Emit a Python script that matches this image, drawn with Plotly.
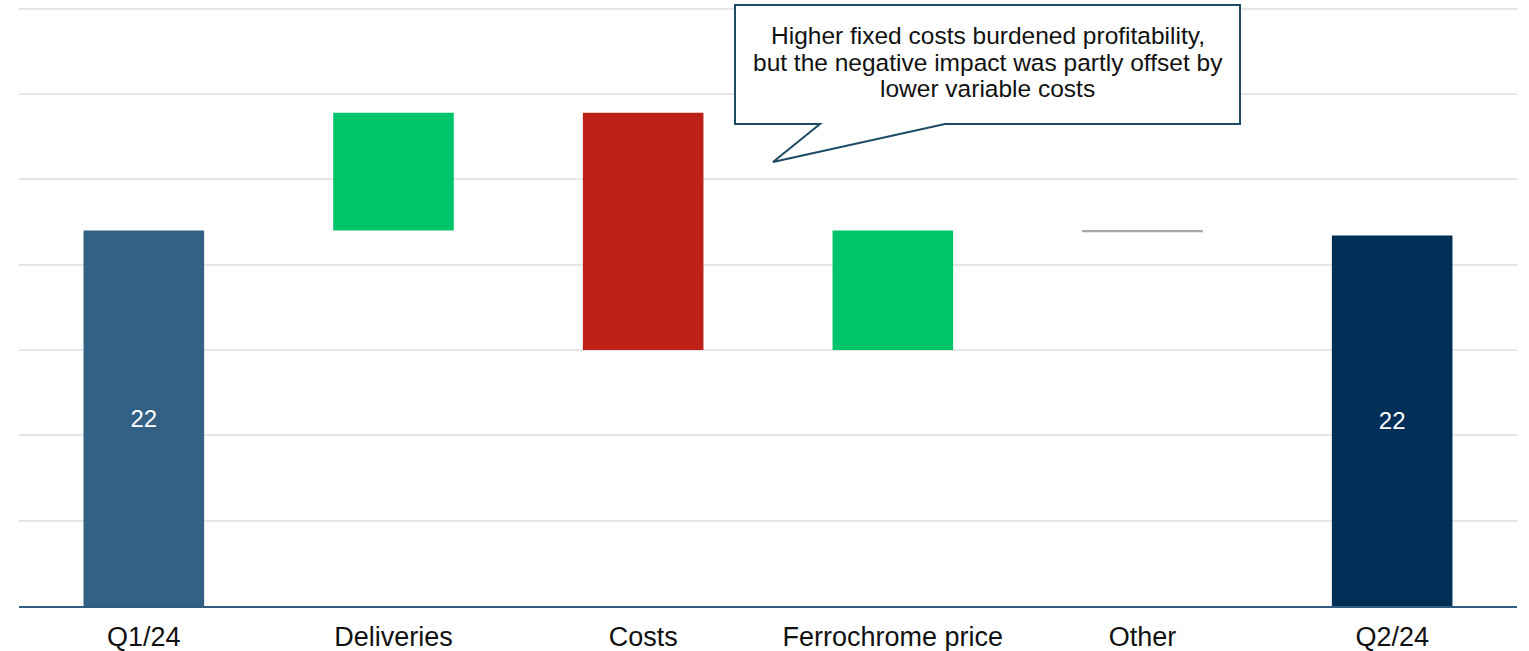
import plotly.graph_objects as go

categories = ["Q1/24", "Deliveries", "Costs", "Ferrochrome price", "Other", "Q2/24"]
values = [22.0, 6.9, -13.9, 7.0, -0.1, 21.7]
measures = ["absolute", "relative", "relative", "relative", "relative", "absolute"]
bar_colors = ["#326185", "#00C46A", "#BE2117", "#00C46A", "#A6A6A6", "#003057"]
callout_text = ["Higher fixed costs burdened profitability,",
                "but the negative impact was partly offset by",
                "lower variable costs"]

# waterfall bases from the values
bases = []
running = 0.0
for v, m in zip(values, measures):
    if m == "absolute":
        bases.append(0.0)
        running = v
    else:
        bases.append(running)
        running += v
labels = [f"{v:.0f}" if m == "absolute" else "" for v, m in zip(values, measures)]

W, H = 1529, 651
ML, MR, MT, MB = 19, 12, 6, 45
PW = W - ML - MR
PH = H - MT - MB


def px(x, y):
    # page pixel -> paper coords
    return (x - ML) / PW, (H - MB - y) / PH


fig = go.Figure()
fig.add_trace(go.Bar(
    x=categories, y=values, base=bases,
    marker=dict(color=bar_colors, line=dict(width=0)),
    text=labels, textposition="inside", insidetextanchor="middle",
    textfont=dict(color="white", size=24, family="Liberation Sans, Arial"),
    hoverinfo="skip", showlegend=False,
))

# callout bubble
pts = [(735, 5), (1240, 5), (1240, 124), (945, 124), (773, 162), (820, 124), (735, 124)]
path = ""
for i, (a, b) in enumerate(pts):
    xp, yp = px(a, b)
    path += ("M" if i == 0 else "L") + f"{xp:.5f},{yp:.5f} "
path += "Z"
fig.add_shape(type="path", path=path, xref="paper", yref="paper",
              line=dict(color="#1D4B66", width=2), fillcolor="white", layer="above")
for line_txt, ly in zip(callout_text, [35, 62, 89]):
    cx, cy = px(987.5, ly)
    fig.add_annotation(x=cx, y=cy, xref="paper", yref="paper", showarrow=False,
                       text=line_txt, align="center",
                       xanchor="center", yanchor="middle",
                       font=dict(size=24.5, color="#111111", family="Liberation Sans, Arial"))

fig.update_layout(
    width=W, height=H,
    margin=dict(l=ML, r=MR, t=MT, b=MB, pad=0, autoexpand=False),
    plot_bgcolor="white", paper_bgcolor="white",
    bargap=0.517,
    font=dict(family="Liberation Sans, Arial", color="#111111"),
    xaxis=dict(showline=True, linecolor="#2F5C80", linewidth=2, ticks="",
               tickfont=dict(size=27, color="#111111"), showgrid=False,
               ticklabelstandoff=6, automargin=False),
    yaxis=dict(range=[0, 35.15], dtick=5, showgrid=True, gridcolor="#E6E6E6", gridwidth=2,
               showticklabels=False, zeroline=False, showline=False, ticks="",
               automargin=False),
)

fig.write_html("out.html", config={"displayModeBar": False},
               post_script="document.body.style.margin='0';document.body.style.overflow='hidden';")
